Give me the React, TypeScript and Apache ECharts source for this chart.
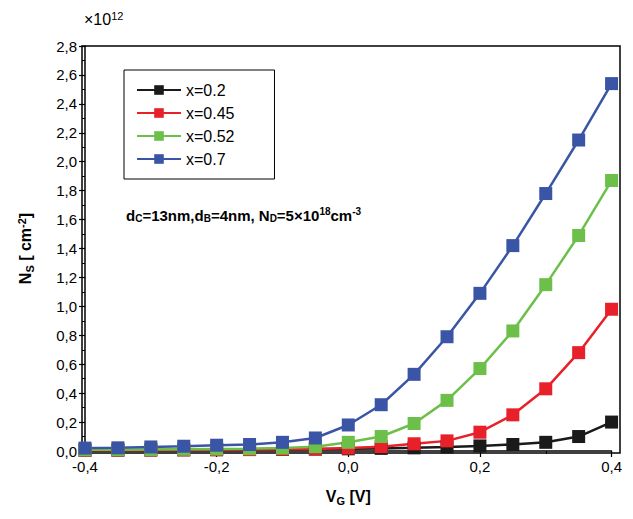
import { useEffect, useRef } from 'react';
import * as echarts from 'echarts';

const xValues = [-0.4, -0.35, -0.3, -0.25, -0.2, -0.15, -0.1, -0.05, 0, 0.05, 0.1, 0.15, 0.2, 0.25, 0.3, 0.35, 0.4];
const black = [0.005, 0.006, 0.007, 0.008, 0.009, 0.01, 0.011, 0.013, 0.015, 0.018, 0.022, 0.027, 0.035, 0.045, 0.06, 0.1, 0.2];
const red = [0.005, 0.006, 0.007, 0.008, 0.009, 0.01, 0.012, 0.014, 0.02, 0.03, 0.05, 0.07, 0.13, 0.25, 0.43, 0.68, 0.98];
const green = [0.008, 0.009, 0.01, 0.012, 0.014, 0.016, 0.02, 0.03, 0.06, 0.1, 0.19, 0.35, 0.57, 0.83, 1.15, 1.49, 1.87];
const blue = [0.02, 0.022, 0.028, 0.033, 0.04, 0.045, 0.06, 0.09, 0.18, 0.32, 0.53, 0.79, 1.09, 1.42, 1.78, 2.15, 2.54];
const seriesDefs = [
  { name: 'x=0.2', color: '#1a1a1a', data: black },
  { name: 'x=0.45', color: '#e8202a', data: red },
  { name: 'x=0.52', color: '#6cc04a', data: green },
  { name: 'x=0.7', color: '#3a55a5', data: blue },
];

const comma = (v: number) => v.toFixed(1).replace('.', ',');

export default function App() {
  const ref = useRef<HTMLDivElement>(null);
  useEffect(() => {
    if (!ref.current) return;
    const chart = echarts.init(ref.current, null, { renderer: 'svg' });
    const axisCommon = {
      axisLine: { show: true, onZero: false, lineStyle: { color: '#000', width: 1.5 } },
      axisTick: { show: true, inside: false, length: 6, lineStyle: { color: '#000', width: 1.2 } },
      minorTick: { show: true, splitNumber: 2, length: 3, lineStyle: { color: '#000' } },
      splitLine: { show: false },
      axisLabel: { color: '#000', fontSize: 15, fontFamily: 'Arial', margin: 8 },
    };
    chart.setOption({
      animation: false,
      textStyle: { fontFamily: 'Arial' },
      grid: { left: 74, right: 5, top: 38, bottom: 58 },
      legend: {
        orient: 'vertical', left: 116, top: 62,
        padding: [12, 40, 12, 12], itemGap: 7,
        borderColor: '#000', borderWidth: 1,
        itemWidth: 44, itemHeight: 12,
        textStyle: { fontSize: 16, color: '#000' },
        data: seriesDefs.map((s) => s.name),
      },
      xAxis: {
        type: 'value', min: -0.4, max: 0.4, interval: 0.2,
        name: 'V{s|G} [V]', nameLocation: 'middle', nameGap: 36,
        nameTextStyle: { fontSize: 16, fontWeight: 'bold', color: '#000', rich: { s: { fontSize: 11, fontWeight: 'bold', padding: [8, 0, 0, 0] } } },
        ...axisCommon,
        axisLabel: { ...axisCommon.axisLabel, formatter: comma },
      },
      yAxis: {
        type: 'value', min: 0, max: 2.8, interval: 0.2,
        name: 'N{s|S} [ cm{p|-2}]', nameLocation: 'middle', nameGap: 50,
        nameTextStyle: { fontSize: 16, fontWeight: 'bold', color: '#000', rich: { s: { fontSize: 11, fontWeight: 'bold', padding: [8, 0, 0, 0] }, p: { fontSize: 11, fontWeight: 'bold', padding: [0, 0, 8, 0] } } },
        ...axisCommon,
        axisLabel: { ...axisCommon.axisLabel, formatter: comma },
      },
      graphic: [
        { type: 'rect', shape: { x: 74, y: 38, width: 538, height: 407 }, style: { fill: 'none', stroke: '#000', lineWidth: 1.5 }, silent: true },
        { type: 'text', left: 76, top: 2, style: { text: '×10{p|12}', fontSize: 16, fill: '#000', rich: { p: { fontSize: 11, padding: [0, 0, 8, 0] } } } },
        {
          type: 'text', left: 118, top: 198,
          style: {
            text: 'd{s|C}=13nm,d{s|B}=4nm, N{s|D}=5×10{p|18}cm{p|-3}',
            fontSize: 15, fontWeight: 'bold', fill: '#000',
            rich: { s: { fontSize: 10, fontWeight: 'bold', padding: [7, 0, 0, 0] }, p: { fontSize: 10, fontWeight: 'bold', padding: [0, 0, 8, 0] } },
          },
        },
      ],
      series: seriesDefs.map((s) => ({
        name: s.name, type: 'line', color: s.color,
        data: xValues.map((x, i) => [x, s.data[i]]),
        symbol: 'rect', symbolSize: 13,
        lineStyle: { width: 2.5, color: s.color },
        itemStyle: { color: s.color },
      })),
    });
    return () => chart.dispose();
  }, []);
  return <div ref={ref} style={{ width: 617, height: 503 }} />;
}
